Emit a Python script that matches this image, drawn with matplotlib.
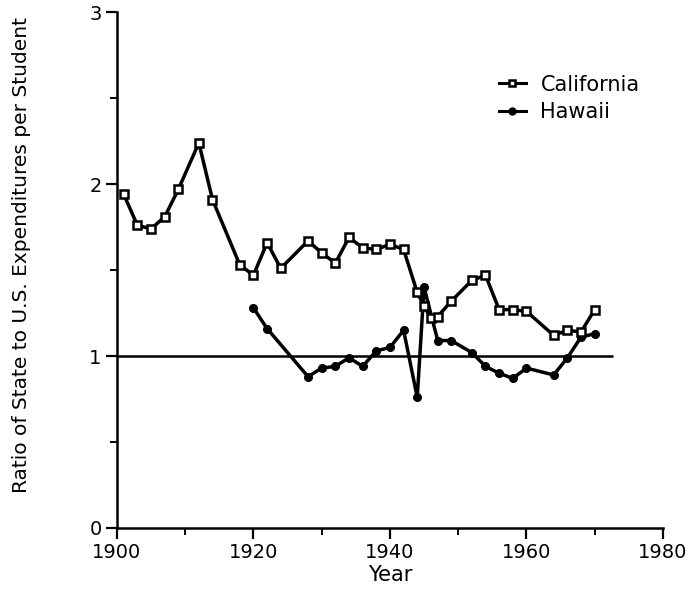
import matplotlib
matplotlib.use("Agg")
import matplotlib.pyplot as plt
from matplotlib.ticker import MultipleLocator

# Data
ca_years = [1901, 1903, 1905, 1907, 1909, 1912, 1914, 1918, 1920, 1922, 1924,
            1928, 1930, 1932, 1934, 1936, 1938, 1940, 1942, 1944, 1945, 1946,
            1947, 1949, 1952, 1954, 1956, 1958, 1960, 1964, 1966, 1968, 1970]
ca_values = [1.94, 1.76, 1.74, 1.81, 1.97, 2.24, 1.91, 1.53, 1.47, 1.66, 1.51,
             1.67, 1.60, 1.54, 1.69, 1.63, 1.62, 1.65, 1.62, 1.37, 1.29, 1.22,
             1.23, 1.32, 1.44, 1.47, 1.27, 1.27, 1.26, 1.12, 1.15, 1.14, 1.27]

hi_years = [1920, 1922, 1928, 1930, 1932, 1934, 1936, 1938, 1940, 1942, 1944,
            1945, 1947, 1949, 1952, 1954, 1956, 1958, 1960, 1964, 1966, 1968, 1970]
hi_values = [1.28, 1.16, 0.88, 0.93, 0.94, 0.99, 0.94, 1.03, 1.05, 1.15, 0.76,
             1.40, 1.09, 1.09, 1.02, 0.94, 0.90, 0.87, 0.93, 0.89, 0.99, 1.11, 1.13]

ref_level = 1.0
ref_start, ref_end = 1900, 1972.7

x_ticks = [1900, 1920, 1940, 1960, 1980]
y_ticks = [0, 1, 2, 3]

fig = plt.figure(figsize=(6.92, 5.97), dpi=100)
ax = fig.add_axes([0.169, 0.1156, 0.789, 0.864])

ax.hlines(ref_level, ref_start, ref_end, color="black", lw=1.8, zorder=1)

ax.plot(ca_years, ca_values, color="black", lw=2.5, marker="s", markersize=6,
        markerfacecolor="white", markeredgecolor="black", markeredgewidth=1.8,
        label="California", zorder=3)
ax.plot(hi_years, hi_values, color="black", lw=2.5, marker="o", markersize=5.5,
        markerfacecolor="black", markeredgecolor="black",
        label="Hawaii", zorder=2)

ax.set_xlim(1900, 1980)
ax.set_ylim(0, 3)
ax.set_xticks(x_ticks)
ax.set_yticks(y_ticks)
ax.xaxis.set_minor_locator(MultipleLocator(10))
ax.yaxis.set_minor_locator(MultipleLocator(0.5))
ax.tick_params(axis="both", which="major", direction="out", length=8, width=1.6,
               labelsize=14, pad=3)
ax.tick_params(axis="both", which="minor", direction="out", length=5, width=1.4)

for s in ["top", "right"]:
    ax.spines[s].set_visible(False)
for s in ["left", "bottom"]:
    ax.spines[s].set_linewidth(1.8)

ax.set_xlabel("Year", fontsize=15, labelpad=2)
ax.set_ylabel("Ratio of State to U.S. Expenditures per Student", fontsize=14.5)
ax.yaxis.set_label_coords(-0.157, 0.53)

leg = ax.legend(loc="upper left", bbox_to_anchor=(0.665, 0.915), frameon=False,
                fontsize=15, handlelength=1.3, handletextpad=0.7, labelspacing=0.35)
for h in leg.legend_handles:
    h.set_markersize(5)
    h.set_linewidth(2.2)

fig.savefig("out.png", dpi=100)
